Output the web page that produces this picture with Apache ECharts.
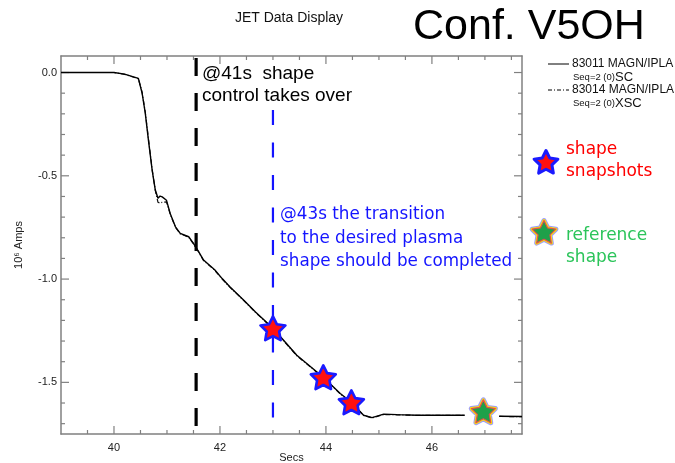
<!DOCTYPE html>
<html><head><meta charset="utf-8">
<script src="https://cdn.jsdelivr.net/npm/echarts@6/dist/echarts.min.js"></script>
<style>html,body{margin:0;padding:0;background:#fff}#c{width:675px;height:463px}</style>
</head><body><div id="c"></div><script>
// ---- data ----
const time83011 = [39.0, 39.5, 40.0, 40.2, 40.46, 40.53, 40.59, 40.65, 40.72, 40.78, 40.83, 40.87, 40.91, 40.99, 41.06, 41.16, 41.25, 41.41, 41.50, 41.60, 41.69, 41.90, 42.05, 42.19, 42.45, 42.67, 43.0, 43.45, 43.95, 44.27, 44.48, 44.71, 44.87, 45.09, 45.34, 45.72, 46.22, 46.62, 46.95, 47.27, 47.7];
const ipla83011 = [0.0, 0.0, 0.0, -0.008, -0.028, -0.099, -0.196, -0.327, -0.472, -0.569, -0.609, -0.598, -0.602, -0.618, -0.682, -0.747, -0.779, -0.795, -0.827, -0.868, -0.908, -0.955, -1.0, -1.038, -1.102, -1.159, -1.238, -1.369, -1.475, -1.554, -1.596, -1.659, -1.671, -1.654, -1.656, -1.659, -1.659, -1.659, null, -1.664, -1.665];
const time83014 = [39.0, 39.5, 40.0, 40.2, 40.46, 40.53, 40.59, 40.65, 40.72, 40.78, 40.83, 40.87, 40.91, 40.99, 41.06, 41.16, 41.25, 41.41, 41.50, 41.60, 41.69, 41.90, 42.05, 42.19, 42.45, 42.67, 43.0, 43.45, 43.95, 44.27, 44.48, 44.71, 44.87, 45.09, 45.34, 45.72, 46.22, 46.62, 46.95, 47.27, 47.7];
const ipla83014 = [0.0, 0.0, 0.0, -0.009, -0.03, -0.095, -0.19, -0.32, -0.468, -0.572, -0.628, -0.632, -0.628, -0.626, -0.684, -0.75, -0.781, -0.797, -0.83, -0.87, -0.91, -0.957, -1.002, -1.04, -1.104, -1.161, -1.24, -1.371, -1.477, -1.556, -1.598, -1.66, -1.672, -1.656, -1.657, -1.66, -1.66, -1.66, null, -1.665, -1.666];
const snapshotTimes = [43.0, 43.95, 44.48];
const snapshotAmps = [-1.238, -1.475, -1.596];
const referenceTimes = [46.97];
const referenceAmps = [-1.64];
const takeoverTime = 41.55;
const takeoverSpan = [0.07, -1.72];
const transitionTime = 43.0;
const transitionSpan = [-0.182, -1.75];
const xMajorTicks = [40, 42, 44, 46];
const xMinorTicks = [39.5, 40.5, 41, 41.5, 42.5, 43, 43.5, 44.5, 45, 45.5, 46.5, 47, 47.5];
const yMajorTicks = [0, -0.5, -1.0, -1.5];
const yMinorTicks = [-0.1, -0.2, -0.3, -0.4, -0.6, -0.7, -0.8, -0.9, -1.1, -1.2, -1.3, -1.4, -1.6, -1.7];
const X_MIN = 39.0, X_MAX = 47.7, Y_MIN = -1.75, Y_MAX = 0.08;

// ---- helpers ----
function starPoints(cx, cy, R, ratio) {
  const pts = [];
  for (let i = 0; i < 10; i++) {
    const a = (-90 + i * 36) * Math.PI / 180;
    const r = i % 2 === 0 ? R : R * ratio;
    pts.push([cx + r * Math.cos(a), cy + r * Math.sin(a)]);
  }
  return pts;
}
const STAR_RATIO = 0.5;
const starPath = 'path://' + starPoints(0, 0, 10, STAR_RATIO).map((p, i) => (i ? 'L' : 'M') + p[0].toFixed(3) + ',' + p[1].toFixed(3)).join(' ') + ' Z';
const zip = (a, b) => a.map((v, i) => [v, b[i]]);

const AX = '#808080';
const FONT = 'Liberation Sans';
const baseAxis = (extra) => Object.assign({
  type: 'value',
  axisLine: { show: true, onZero: false, lineStyle: { color: AX, width: 1.5 } },
  axisTick: { show: false },
  splitLine: { show: false }
}, extra);

// tick marks drawn through the axis scales
function tickSeries(values, axis, len) {
  return {
    type: 'custom', silent: true, z: 1, clip: false,
    data: values.map(v => axis === 'x' ? [v, Y_MIN] : [X_MIN, v]),
    renderItem: (params, api) => {
      if (axis === 'x') {
        const b = api.coord([api.value(0), Y_MIN]);
        const t = api.coord([api.value(0), Y_MAX]);
        return { type: 'group', children: [
          { type: 'line', shape: { x1: b[0], y1: b[1], x2: b[0], y2: b[1] - len }, style: { stroke: AX, lineWidth: 1.2 } },
          { type: 'line', shape: { x1: t[0], y1: t[1], x2: t[0], y2: t[1] + len }, style: { stroke: AX, lineWidth: 1.2 } }
        ] };
      } else {
        const l = api.coord([X_MIN, api.value(1)]);
        const r = api.coord([X_MAX, api.value(1)]);
        return { type: 'group', children: [
          { type: 'line', shape: { x1: l[0], y1: l[1], x2: l[0] + len, y2: l[1] }, style: { stroke: AX, lineWidth: 1.2 } },
          { type: 'line', shape: { x1: r[0], y1: r[1], x2: r[0] - len, y2: r[1] }, style: { stroke: AX, lineWidth: 1.2 } }
        ] };
      }
    }
  };
}

function starGraphic(cx, cy, R, layers) {
  return layers.map((l, i) => ({
    type: 'polygon', z: 100 + i,
    shape: { points: starPoints(cx, cy, R, STAR_RATIO) },
    style: { fill: l.fill, stroke: l.stroke, lineWidth: l.w, lineJoin: 'round' }
  }));
}
const RED = '#ff1010', BLUE = '#1a1aff', GREEN = '#1fa04a';
const redStarLayers = [{ fill: RED, stroke: BLUE, w: 3 }];
const greenStarLayers = [
  { fill: GREEN, stroke: '#9a9aff', w: 5 },
  { fill: GREEN, stroke: '#ffe600', w: 3 },
  { fill: GREEN, stroke: '#e05050', w: 1.2 }
];
const greenScatter = (stroke, w, z) => ({
  type: 'scatter', data: zip(referenceTimes, referenceAmps), symbol: starPath, symbolKeepAspect: true, symbolSize: 24,
  itemStyle: { color: GREEN, borderColor: stroke, borderWidth: w, borderJoin: 'round', opacity: 1 }, z
});

const txt = (text, x, y, size, color, family, align) => ({
  type: 'text', z: 100,
  style: { text, x, y, fill: color, font: size + 'px "' + family + '"', verticalAlign: 'middle', align: align || 'left' }
});

const chart = echarts.init(document.getElementById('c'), null, { renderer: 'canvas' });
const option = {
  backgroundColor: '#fff',
  animation: false,
  grid: { left: 61, right: 153, top: 56, bottom: 29, containLabel: false, outerBoundsMode: 'none' },
  xAxis: [
    baseAxis({ position: 'bottom', min: X_MIN, max: X_MAX,
      axisLabel: { show: true, customValues: xMajorTicks, margin: 8, fontSize: 11, color: '#222', fontFamily: FONT, formatter: v => String(v) },
      name: 'Secs', nameLocation: 'middle', nameGap: 18, nameMoveOverlap: false, nameTextStyle: { fontSize: 11, color: '#222', fontFamily: FONT } }),
    baseAxis({ position: 'top', min: X_MIN, max: X_MAX, axisLabel: { show: false } })
  ],
  yAxis: [
    baseAxis({ position: 'left', min: Y_MIN, max: Y_MAX,
      axisLabel: { show: true, customValues: yMajorTicks, margin: 4, fontSize: 11, color: '#222', fontFamily: FONT, formatter: v => v.toFixed(1) },
      name: '10\u2076 Amps', nameLocation: 'middle', nameGap: 37, nameMoveOverlap: false, nameRotate: 90, nameTextStyle: { fontSize: 11, color: '#222', fontFamily: FONT } }),
    baseAxis({ position: 'right', min: Y_MIN, max: Y_MAX, axisLabel: { show: false } })
  ],
  series: [
    tickSeries(xMajorTicks, 'x', 8),
    tickSeries(xMinorTicks, 'x', 4),
    tickSeries(yMajorTicks, 'y', 8),
    tickSeries(yMinorTicks, 'y', 4),
    { type: 'line', data: zip(time83014, ipla83014), symbol: 'none', lineStyle: { color: '#111', width: 1.2, type: [5, 2, 1, 2] }, z: 2 },
    { type: 'line', data: zip(time83011, ipla83011), symbol: 'none', lineStyle: { color: '#000', width: 1.4 }, z: 3 },
    { type: 'line', data: zip([takeoverTime, takeoverTime], takeoverSpan), symbol: 'none', lineStyle: { color: '#000', width: 3.2, type: [18, 17] }, z: 4 },
    { type: 'line', data: zip([transitionTime, transitionTime], transitionSpan), symbol: 'none', lineStyle: { color: '#1414ff', width: 2.2, type: [15, 17.5] }, z: 4 },
    { type: 'scatter', data: zip(snapshotTimes, snapshotAmps), symbol: starPath, symbolKeepAspect: true, symbolSize: 25,
      itemStyle: { color: RED, borderColor: BLUE, borderWidth: 2.6, borderJoin: 'round', opacity: 1 }, z: 10 },
    greenScatter('#9a9aff', 5, 10),
    greenScatter('#ffe600', 3, 11),
    greenScatter('#e05050', 1.2, 12)
  ],
  graphic: [
    txt('JET Data Display', 289, 18, 14, '#111', FONT, 'center'),
    txt('Conf. V5OH', 413, 27, 43, '#000', FONT),
    txt('@41s  shape', 202, 74, 19, '#000', FONT),
    txt('control takes over', 202, 96, 19, '#000', FONT),
    txt('@43s the transition', 280, 215, 16.8, '#1414ff', 'DejaVu Sans'),
    txt('to the desired plasma', 280, 239, 16.8, '#1414ff', 'DejaVu Sans'),
    txt('shape should be completed', 280, 262, 16.8, '#1414ff', 'DejaVu Sans'),
    txt('shape', 566, 150, 17, '#ff0000', 'DejaVu Sans'),
    txt('snapshots', 566, 172, 17, '#ff0000', 'DejaVu Sans'),
    txt('reference', 566, 236, 17, '#2bc45a', 'DejaVu Sans'),
    txt('shape', 566, 258, 17, '#2bc45a', 'DejaVu Sans'),
    { type: 'line', z: 100, shape: { x1: 548, y1: 64, x2: 569, y2: 64 }, style: { stroke: '#000', lineWidth: 1 } },
    txt('83011 MAGN/IPLA', 572, 64, 12, '#111', FONT),
    { type: 'text', z: 100, style: { text: '{s|Seq=2 (0)}{b|SC}', x: 573, y: 77, verticalAlign: 'middle', align: 'left',
      rich: { s: { fontSize: 9.5, fontFamily: FONT, fill: '#111' }, b: { fontSize: 13, fontFamily: FONT, fill: '#111' } } } },
    { type: 'line', z: 100, shape: { x1: 548, y1: 90, x2: 569, y2: 90 }, style: { stroke: '#000', lineWidth: 1, lineDash: [4, 2, 1, 2] } },
    txt('83014 MAGN/IPLA', 572, 90, 12, '#111', FONT),
    { type: 'text', z: 100, style: { text: '{s|Seq=2 (0)}{b|XSC}', x: 573, y: 103, verticalAlign: 'middle', align: 'left',
      rich: { s: { fontSize: 9.5, fontFamily: FONT, fill: '#111' }, b: { fontSize: 13, fontFamily: FONT, fill: '#111' } } } }
  ].concat(starGraphic(546, 163, 12.5, redStarLayers), starGraphic(544, 233, 12.5, greenStarLayers))
};
chart.setOption(option);
</script></body></html>
